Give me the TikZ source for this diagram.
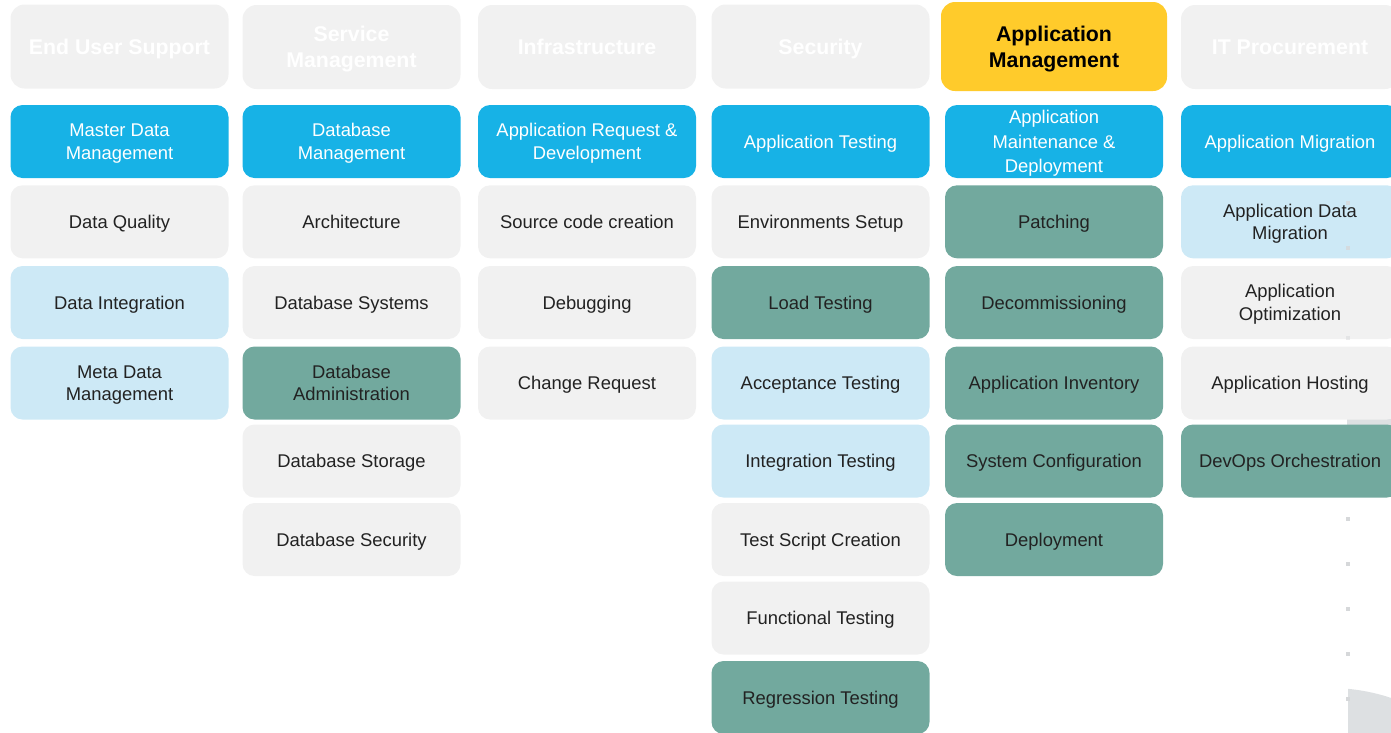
\documentclass[tikz,border=0pt]{standalone}
\usepackage{fontspec}
\setmainfont{Liberation Sans}
\definecolor{cblue}{HTML}{17B2E6}
\definecolor{clight}{HTML}{CDE9F6}
\definecolor{cteal}{HTML}{72A99E}
\definecolor{cgray}{HTML}{F1F1F1}
\definecolor{cyel}{HTML}{FFCB2B}
\definecolor{cdeco}{HTML}{DDE0E2}
\definecolor{cdot}{HTML}{D6D8DA}
\definecolor{ctext}{HTML}{222222}
\begin{document}
\begin{tikzpicture}[x=1pt,y=-1pt,
  cell/.style={rounded corners=12pt, minimum width=218pt, minimum height=73pt, inner sep=0pt, text depth=0pt, align=center, font=\fontsize{18.4}{22.5}\selectfont},
  hdr/.style={rounded corners=14pt, minimum width=218pt, minimum height=84pt, inner sep=0pt, text depth=0pt, align=center, fill=cgray, text=white, font=\bfseries\fontsize{21.3}{26}\selectfont},
  blue/.style={cell, fill=cblue, text=white},
  light/.style={cell, fill=clight, text=ctext},
  gry/.style={cell, fill=cgray, text=ctext},
  teal/.style={cell, fill=cteal, text=ctext},
  dotsq/.style={fill=cdot, minimum size=4pt, inner sep=0pt}]
\useasboundingbox (0,0) rectangle (1391,732);
\clip (0,0) rectangle (1391,732);
% background decorations
\fill[cdeco] (1347,418) rectangle (1391,494);
\begin{scope}
\clip (1348,600) rectangle (1391,732);
\fill[cdeco] (1330,880) circle (192);
\end{scope}
% headers
\node[hdr] (h1) at (119.5,46.5) {End User Support};
\node[hdr] (h2) at (351.5,47) {Service\\Management};
\node[hdr] (h3) at (587,47) {Infrastructure};
\node[hdr] (h4) at (820.5,46.5) {Security};
\node[hdr, fill=cyel, text=black, minimum width=226pt, minimum height=89pt] (h5) at (1054,46.5) {Application\\Management};
\node[hdr] (h6) at (1290,47) {IT Procurement};
% column 1
\node[blue] (a1) at (119.5,141.5) {Master Data\\Management};
\node[gry]  (a2) at (119.5,221.8) {Data Quality};
\node[light](a3) at (119.5,302.5) {Data Integration};
\node[light](a4) at (119.5,383) {Meta Data\\Management};
% column 2
\node[blue] (b1) at (351.5,141.5) {Database\\Management};
\node[gry]  (b2) at (351.5,221.8) {Architecture};
\node[gry]  (b3) at (351.5,302.5) {Database Systems};
\node[teal] (b4) at (351.5,383) {Database\\Administration};
\node[gry]  (b5) at (351.5,461) {Database Storage};
\node[gry]  (b6) at (351.5,539.5) {Database Security};
% column 3
\node[blue] (c1) at (587,141.5) {Application Request \&\\Development};
\node[gry]  (c2) at (587,221.8) {Source code creation};
\node[gry]  (c3) at (587,302.5) {Debugging};
\node[gry]  (c4) at (587,383) {Change Request};
% column 4
\node[blue] (d1) at (820.5,141.5) {Application Testing};
\node[gry]  (d2) at (820.5,221.8) {Environments Setup};
\node[teal] (d3) at (820.5,302.5) {Load Testing};
\node[light](d4) at (820.5,383) {Acceptance Testing};
\node[light](d5) at (820.5,461) {Integration Testing};
\node[gry]  (d6) at (820.5,539.5) {Test Script Creation};
\node[gry]  (d7) at (820.5,618) {Functional Testing};
\node[teal] (d8) at (820.5,697.5) {Regression Testing};
% column 5
\node[blue, font=\fontsize{18.4}{24.5}\selectfont] (e1) at (1054,141.5) {Application\\Maintenance \&\\Deployment};
\node[teal] (e2) at (1054,221.8) {Patching};
\node[teal] (e3) at (1054,302.5) {Decommissioning};
\node[teal] (e4) at (1054,383) {Application Inventory};
\node[teal] (e5) at (1054,461) {System Configuration};
\node[teal] (e6) at (1054,539.5) {Deployment};
% column 6
\node[blue] (f1) at (1290,141.5) {Application Migration};
\node[light](f2) at (1290,221.8) {Application Data\\Migration};
\node[gry]  (f3) at (1290,302.5) {Application\\Optimization};
\node[gry]  (f4) at (1290,383) {Application Hosting};
\node[teal] (f5) at (1290,461) {DevOps Orchestration};
% dotted guide squares
\foreach \yy/\op in {203/0.8,248/0.8,338/0.5,519/1,564/1,609/1,654/1,699/1}
  \node[dotsq, opacity=\op] at (1348,\yy) {};
\end{tikzpicture}
\end{document}
